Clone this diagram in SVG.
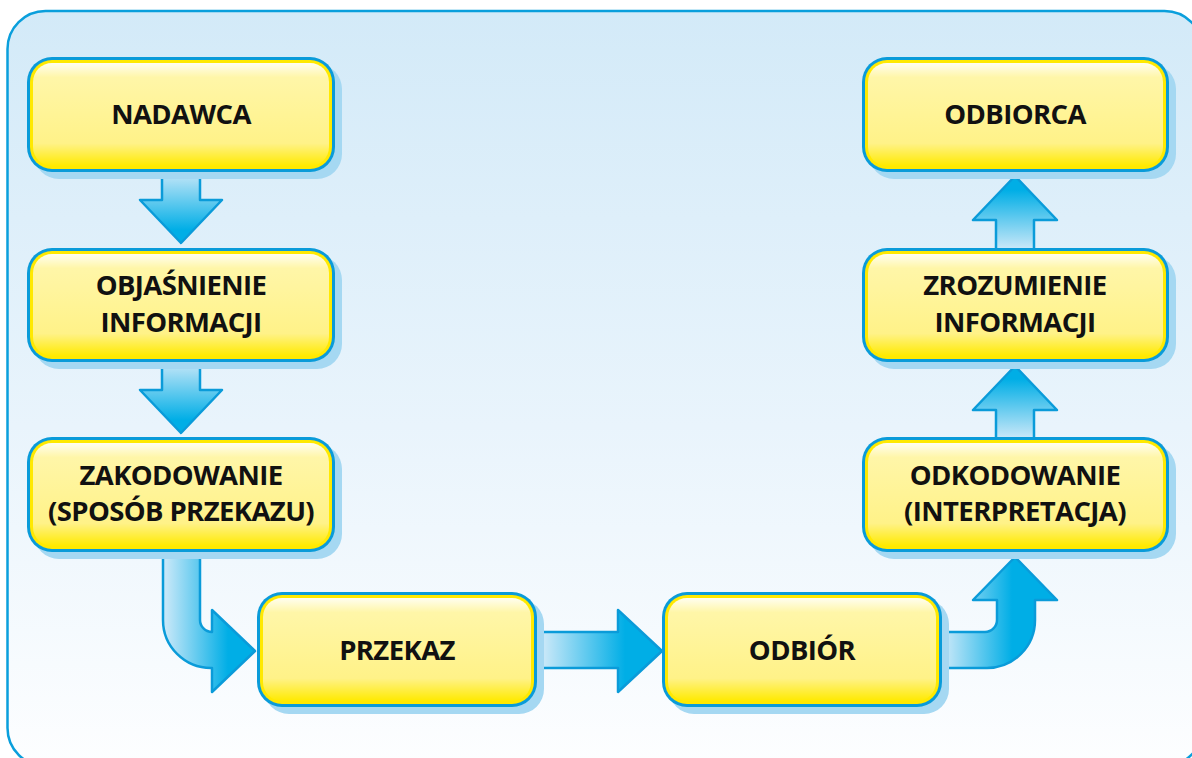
<svg xmlns="http://www.w3.org/2000/svg" width="1192" height="758" viewBox="0 0 1192 758">
  <defs>
    <linearGradient id="bg" x1="0" y1="0" x2="0" y2="1">
      <stop offset="0" stop-color="#d3eaf8"/>
      <stop offset="0.55" stop-color="#e9f4fc"/>
      <stop offset="1" stop-color="#fdfeff"/>
    </linearGradient>
    <linearGradient id="boxFill" x1="0" y1="0" x2="0" y2="1">
      <stop offset="0" stop-color="#fffef0"/>
      <stop offset="0.14" stop-color="#fff6a8"/>
      <stop offset="0.5" stop-color="#fff496"/>
      <stop offset="0.78" stop-color="#fff288"/>
      <stop offset="1" stop-color="#ffea00"/>
    </linearGradient>
    <linearGradient id="arrowDown" gradientUnits="userSpaceOnUse" x1="0" y1="0" x2="0" y2="1">
      <stop offset="0" stop-color="#c6e7f8"/>
      <stop offset="1" stop-color="#00aee6"/>
    </linearGradient>
    <linearGradient id="gDown1" href="#arrowDown" gradientUnits="userSpaceOnUse" x1="0" y1="172" x2="0" y2="230"/>
    <linearGradient id="gDown2" href="#arrowDown" gradientUnits="userSpaceOnUse" x1="0" y1="362" x2="0" y2="420"/>
    <linearGradient id="gUp1" href="#arrowDown" gradientUnits="userSpaceOnUse" x1="0" y1="248" x2="0" y2="190"/>
    <linearGradient id="gUp2" href="#arrowDown" gradientUnits="userSpaceOnUse" x1="0" y1="437" x2="0" y2="379"/>
    <linearGradient id="gBendL" href="#arrowDown" gradientUnits="userSpaceOnUse" x1="166" y1="0" x2="228" y2="0"/>
    <linearGradient id="gStraight" href="#arrowDown" gradientUnits="userSpaceOnUse" x1="545" y1="0" x2="625" y2="0"/>
    <linearGradient id="gBendR" href="#arrowDown" gradientUnits="userSpaceOnUse" x1="945" y1="0" x2="1012" y2="0"/>
    <style>
      .arrow { stroke: #0a9bd9; stroke-width: 2.5; stroke-linejoin: round; }
      .shadow { fill: #a5d8f2; }
      .edge { fill: #0a9bd9; }
      .rim { fill: #ffe900; }
      .face { fill: url(#boxFill); }
      .label { font-family: "Open Sans", "Noto Sans", sans-serif; font-weight: 700; font-size: 27.5px; letter-spacing: -0.6px; fill: #111111; text-anchor: middle; }
    </style>
  </defs>

  <!-- frame -->
  <rect x="7.5" y="11" width="1195" height="755" rx="38" fill="url(#bg)" stroke="#0a9fdc" stroke-width="2.5"/>

  <!-- connectors -->
  <g id="connectors">
    <path class="arrow" fill="url(#gDown1)" d="M162 168 L200 168 L200 200 L222 200 L181 243 L140 200 L162 200 Z"/>
    <path class="arrow" fill="url(#gDown2)" d="M162 358 L200 358 L200 390 L222 390 L181 433 L140 390 L162 390 Z"/>
    <path class="arrow" fill="url(#gUp1)" d="M996 252 L1034 252 L1034 220 L1057 220 L1015 176 L973 220 L996 220 Z"/>
    <path class="arrow" fill="url(#gUp2)" d="M996 441 L1034 441 L1034 410 L1057 410 L1015 366 L973 410 L996 410 Z"/>
    <path class="arrow" fill="url(#gBendL)" d="M163 548 L163 620 A48 48 0 0 0 211 668 L212 668 L212 692 L255 651 L212 610 L212 632 A12 12 0 0 1 200 620 L200 548 Z"/>
    <path class="arrow" fill="url(#gStraight)" d="M530 632 L618 632 L618 610 L662 651 L618 692 L618 668 L530 668 Z"/>
    <path class="arrow" fill="url(#gBendR)" d="M935 632 L985 632 A12 12 0 0 0 997 620 L997 600 L973 600 L1015 557 L1057 600 L1035 600 L1035 620 A48 48 0 0 1 987 668 L935 668 Z"/>
  </g>

  <!-- nodes -->
  <g id="nadawca">
    <rect class="shadow" x="34" y="64" width="308" height="115" rx="25"/>
    <rect class="edge" x="27" y="57" width="308" height="115" rx="25"/>
    <rect class="rim" x="30" y="60" width="302" height="109" rx="22"/>
    <rect class="face" x="33" y="63" width="296" height="103" rx="19"/>
    <text class="label" x="181" y="124">NADAWCA</text>
  </g>

  <g id="objasnienie">
    <rect class="shadow" x="34" y="255" width="308" height="114" rx="25"/>
    <rect class="edge" x="27" y="248" width="308" height="114" rx="25"/>
    <rect class="rim" x="30" y="251" width="302" height="108" rx="22"/>
    <rect class="face" x="33" y="254" width="296" height="102" rx="19"/>
    <text class="label" x="181" y="295">OBJAŚNIENIE</text>
    <text class="label" x="181" y="332">INFORMACJI</text>
  </g>

  <g id="zakodowanie">
    <rect class="shadow" x="34" y="444" width="308" height="115" rx="25"/>
    <rect class="edge" x="27" y="437" width="308" height="115" rx="25"/>
    <rect class="rim" x="30" y="440" width="302" height="109" rx="22"/>
    <rect class="face" x="33" y="443" width="296" height="103" rx="19"/>
    <text class="label" x="181" y="485">ZAKODOWANIE</text>
    <text class="label" x="181" y="521">(SPOSÓB PRZEKAZU)</text>
  </g>

  <g id="przekaz">
    <rect class="shadow" x="264" y="599" width="280" height="115" rx="25"/>
    <rect class="edge" x="257" y="592" width="280" height="115" rx="25"/>
    <rect class="rim" x="260" y="595" width="274" height="109" rx="22"/>
    <rect class="face" x="263" y="598" width="268" height="103" rx="19"/>
    <text class="label" x="397" y="660">PRZEKAZ</text>
  </g>

  <g id="odbior">
    <rect class="shadow" x="669" y="599" width="280" height="115" rx="25"/>
    <rect class="edge" x="662" y="592" width="280" height="115" rx="25"/>
    <rect class="rim" x="665" y="595" width="274" height="109" rx="22"/>
    <rect class="face" x="668" y="598" width="268" height="103" rx="19"/>
    <text class="label" x="802" y="660">ODBIÓR</text>
  </g>

  <g id="odkodowanie">
    <rect class="shadow" x="869" y="444" width="307" height="115" rx="25"/>
    <rect class="edge" x="862" y="437" width="307" height="115" rx="25"/>
    <rect class="rim" x="865" y="440" width="301" height="109" rx="22"/>
    <rect class="face" x="868" y="443" width="295" height="103" rx="19"/>
    <text class="label" x="1015" y="485">ODKODOWANIE</text>
    <text class="label" x="1015" y="521">(INTERPRETACJA)</text>
  </g>

  <g id="zrozumienie">
    <rect class="shadow" x="869" y="255" width="307" height="114" rx="25"/>
    <rect class="edge" x="862" y="248" width="307" height="114" rx="25"/>
    <rect class="rim" x="865" y="251" width="301" height="108" rx="22"/>
    <rect class="face" x="868" y="254" width="295" height="102" rx="19"/>
    <text class="label" x="1015" y="295">ZROZUMIENIE</text>
    <text class="label" x="1015" y="332">INFORMACJI</text>
  </g>

  <g id="odbiorca">
    <rect class="shadow" x="869" y="64" width="307" height="115" rx="25"/>
    <rect class="edge" x="862" y="57" width="307" height="115" rx="25"/>
    <rect class="rim" x="865" y="60" width="301" height="109" rx="22"/>
    <rect class="face" x="868" y="63" width="295" height="103" rx="19"/>
    <text class="label" x="1015" y="124">ODBIORCA</text>
  </g>
</svg>
